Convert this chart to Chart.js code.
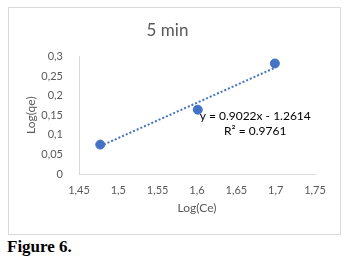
<!DOCTYPE html>
<html>
<head>
<meta charset="utf-8">
<script src="https://cdn.jsdelivr.net/npm/chart.js@4/dist/chart.umd.min.js"></script>
<style>
    html, body { margin: 0; padding: 0; background: #fff; }
    #box {
        position: absolute; left: 8px; top: 7px;
        width: 331px; height: 226px;
        border: 1px solid #d9d9d9;
    }
    #caption {
        position: absolute; left: 7px; top: 237px;
        font-family: "Liberation Serif", "DejaVu Serif", serif;
        font-weight: bold; font-size: 17px; color: #000;
    }
</style>
</head>
<body>
<div id="box"><canvas id="chart" width="331" height="226"></canvas></div>
<div id="caption">Figure 6.</div>
<script>
// values
const logCe = [1.477, 1.601, 1.699];
const logQe = [0.075, 0.164, 0.282];
// trendline end points (y = 0.9022x - 1.2614)
const trendX = [1.477, 1.699];
const trendY = [0.071, 0.271];
const equationLines = ['y = 0.9022x - 1.2614', 'R² = 0.9761'];

const blue = '#4472c4';
const grey = '#595959';
const font = 'Lato, "Liberation Sans", sans-serif';

const comma = v => String(Math.round(v * 100) / 100).replace('.', ',');

const equationLabel = {
    id: 'equationLabel',
    afterDatasetsDraw(chart) {
        const ctx = chart.ctx;
        const x = chart.scales.x.getPixelForValue(1.674);
        const y = chart.scales.y.getPixelForValue(0.148);
        ctx.save();
        ctx.font = '12px ' + font;
        ctx.fillStyle = '#000';
        ctx.textAlign = 'center';
        ctx.textBaseline = 'middle';
        equationLines.forEach((t, i) => ctx.fillText(t, x, y + i * 15));
        ctx.restore();
    }
};

new Chart(document.getElementById('chart'), {
    type: 'scatter',
    data: {
        datasets: [{
            label: 'trend',
            data: trendX.map((x, i) => ({x: x, y: trendY[i]})),
            showLine: true,
            borderColor: blue,
            borderWidth: 2,
            borderDash: [2, 2],
            pointRadius: 0,
            fill: false,
        }, {
            label: 'data',
            data: logCe.map((x, i) => ({x: x, y: logQe[i]})),
            backgroundColor: blue,
            borderColor: blue,
            pointRadius: 4.5,
        }],
    },
    options: {
        responsive: false,
        animation: false,
        layout: { padding: { left: 11, right: 25, top: 0, bottom: 19 } },
        plugins: {
            legend: { display: false },
            tooltip: { enabled: false },
            title: {
                display: true,
                text: '5 min',
                color: grey,
                font: { family: font, size: 17, weight: 'normal' },
                padding: { top: 12, bottom: 16 },
            },
        },
        scales: {
            x: {
                type: 'linear',
                min: 1.45, max: 1.75,
                grid: { display: false },
                border: { display: true, color: '#d9d9d9', width: 1 },
                ticks: { stepSize: 0.05, color: grey, font: { family: font, size: 11 }, callback: comma, padding: 2, maxRotation: 0 },
                title: { display: true, text: 'Log(Ce)', color: grey, font: { family: font, size: 12 }, padding: { top: 4, bottom: 0 } },
                afterFit: s => { s.height = 41; },
            },
            y: {
                min: 0, max: 0.3,
                grid: { display: false },
                border: { display: true, color: '#d9d9d9', width: 1 },
                ticks: { stepSize: 0.05, color: grey, font: { family: font, size: 11 }, callback: comma, padding: 8 },
                title: { display: true, text: 'Log(qe)', color: grey, font: { family: font, size: 12 }, padding: { top: 4, bottom: 4 } },
                afterFit: s => { s.width = 59; },
            },
        },
    },
    plugins: [equationLabel],
});
</script>
</body>
</html>
